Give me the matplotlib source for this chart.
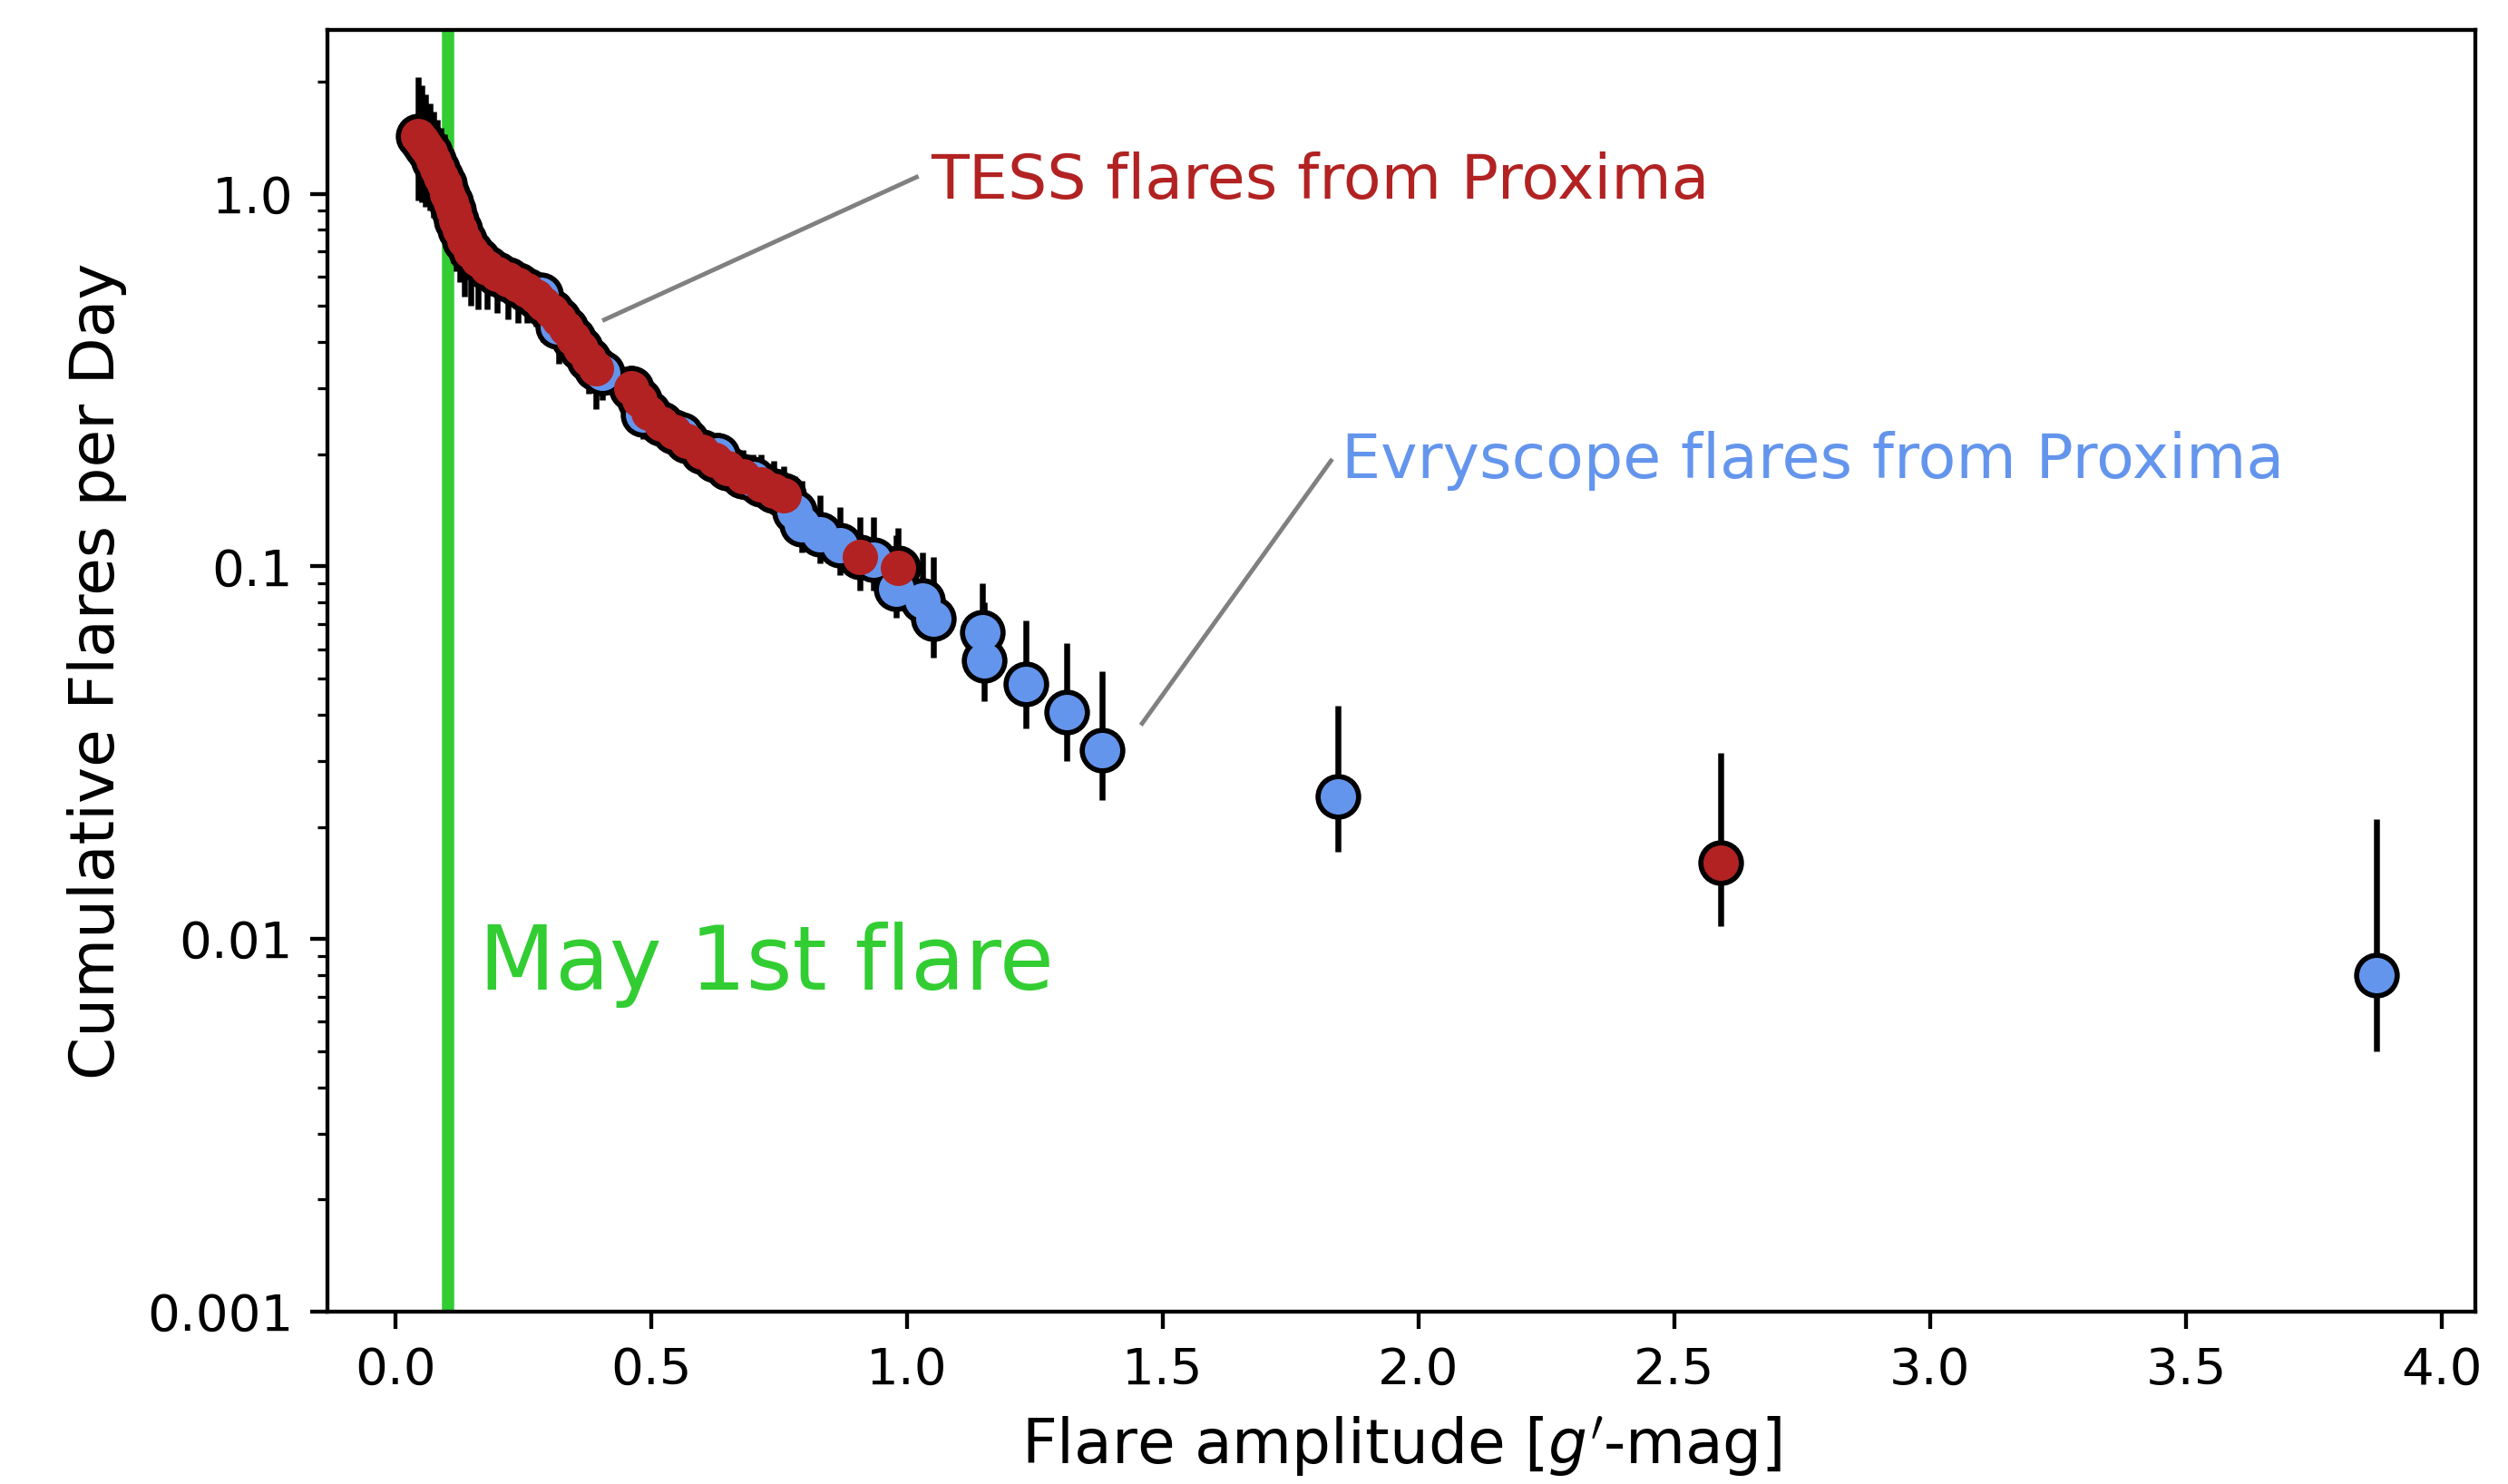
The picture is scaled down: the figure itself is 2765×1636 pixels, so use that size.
import matplotlib
matplotlib.use('Agg')
from matplotlib import pyplot as plt

# TESS flares (red): amplitude, cumulative rate, lower / upper error bar ends
tess_amp = [0.045, 0.052, 0.060, 0.068, 0.076, 0.083, 0.090, 0.096, 0.102, 0.108,
            0.114, 0.120, 0.127, 0.136, 0.148, 0.162, 0.180, 0.200, 0.220, 0.240,
            0.258, 0.275, 0.290, 0.305, 0.320, 0.334, 0.348, 0.362, 0.378, 0.393,
            0.462, 0.478, 0.495, 0.520, 0.545, 0.570, 0.600, 0.625, 0.650, 0.680,
            0.715, 0.740, 0.760, 0.908, 0.982, 2.590]
tess_rate = [1.43, 1.39, 1.34, 1.29, 1.23, 1.17, 1.11, 1.06, 1.00, 0.95,
             0.90, 0.85, 0.80, 0.75, 0.70, 0.665, 0.635, 0.610, 0.590, 0.570,
             0.550, 0.530, 0.505, 0.485, 0.460, 0.435, 0.410, 0.385, 0.360, 0.340,
             0.300, 0.280, 0.258, 0.242, 0.230, 0.217, 0.203, 0.193, 0.184, 0.175,
             0.166, 0.160, 0.155, 0.106, 0.099, 0.0160]
tess_lo = [0.96, 0.95, 0.92, 0.90, 0.86, 0.82, 0.78, 0.75, 0.71, 0.68,
           0.65, 0.62, 0.58, 0.53, 0.50, 0.49, 0.49, 0.48, 0.46, 0.45,
           0.45, 0.44, 0.40, 0.40, 0.35, 0.36, 0.33, 0.33, 0.29, 0.264,
           0.235, 0.245, 0.225, 0.212, 0.20, 0.19, 0.177, 0.168, 0.160, 0.152,
           0.145, 0.139, 0.135, 0.086, 0.080, 0.0108]
tess_hi = [2.05, 1.95, 1.85, 1.75, 1.66, 1.58, 1.50, 1.44, 1.36, 1.28,
           1.20, 1.05, 0.95, 0.88, 0.82, 0.77, 0.73, 0.70, 0.67, 0.65,
           0.63, 0.61, 0.58, 0.56, 0.53, 0.50, 0.47, 0.44, 0.41, 0.39,
           0.345, 0.32, 0.295, 0.275, 0.262, 0.248, 0.232, 0.222, 0.212, 0.205,
           0.200, 0.192, 0.186, 0.136, 0.127, 0.0316]

# Evryscope flares (blue)
evr_amp = [0.285, 0.318, 0.405, 0.485, 0.560, 0.630, 0.700, 0.780, 0.795, 0.830,
           0.870, 0.935, 0.980, 1.030, 1.052, 1.147, 1.152, 1.233, 1.313, 1.381,
           1.842, 3.872]
evr_rate = [0.535, 0.440, 0.330, 0.255, 0.226, 0.198, 0.172, 0.140, 0.130, 0.122,
            0.114, 0.104, 0.087, 0.081, 0.0725, 0.0665, 0.0558, 0.0484, 0.0407, 0.0321,
            0.0241, 0.0080]
evr_lo = [0.46, 0.38, 0.28, 0.22, 0.195, 0.172, 0.15, 0.12, 0.109, 0.102,
          0.095, 0.086, 0.073, 0.066, 0.057, 0.054, 0.0434, 0.0367, 0.030, 0.0236,
          0.0171, 0.0050]
evr_hi = [0.60, 0.49, 0.38, 0.29, 0.26, 0.228, 0.20, 0.175, 0.170, 0.155,
          0.144, 0.136, 0.121, 0.109, 0.106, 0.090, 0.080, 0.0715, 0.0624, 0.0524,
          0.0423, 0.0210]

may1_amp = 0.104
ytick_vals = [0.001, 0.01, 0.1, 1.0]
ytick_labels = ['0.001', '0.01', '0.1', '1.0']

red = '#B22222'
blue = '#6495ED'
green = '#32CD32'

fig = plt.figure(figsize=(2765 / 390, 1636 / 390), dpi=390)
ax = fig.add_axes([0.1306, 0.1161, 0.8565, 0.8637])
ax.set_yscale('log')

ax.axvline(may1_amp, color=green, lw=2.5, zorder=1)

# error bars
for amp, rate, lo, hi in [(evr_amp, evr_rate, evr_lo, evr_hi),
                          (tess_amp, tess_rate, tess_lo, tess_hi)]:
    yerr = [[r - l for r, l in zip(rate, lo)], [h - r for r, h in zip(rate, hi)]]
    ax.errorbar(amp, rate, yerr=yerr, fmt='none', ecolor='k', elinewidth=1.2, zorder=2)

# black outlines underneath, then coloured faces
ax.plot(evr_amp + tess_amp, evr_rate + tess_rate, 'o', ms=9.3, color='k', mew=0, zorder=3)
ax.plot(evr_amp, evr_rate, 'o', ms=7.2, color=blue, mew=0, zorder=4)
ax.plot(tess_amp, tess_rate, 'o', ms=7.2, color=red, mew=0, zorder=5)

ax.text(1.047, 1.08, 'TESS flares from Proxima', color=red, fontsize=12.6, va='center')
ax.plot([1.019, 0.409], [1.108, 0.459], color='gray', lw=0.9)
ax.text(1.85, 0.192, 'Evryscope flares from Proxima', color=blue, fontsize=12.6, va='center')
ax.plot([1.829, 1.46], [0.192, 0.0379], color='gray', lw=0.9)
ax.text(0.163, 0.00855, 'May 1st flare', color=green, fontsize=18, va='center')

ax.set_xlim(-0.132, 4.066)
ax.set_ylim(0.001, 2.75)
ax.set_yticks(ytick_vals)
ax.set_yticklabels(ytick_labels)
ax.tick_params(labelsize=10.4)
ax.set_xlabel("Flare amplitude [$g'$-mag]", fontsize=12.5)
ax.set_ylabel('Cumulative Flares per Day', fontsize=12.5)

plt.savefig('out.png', dpi=390)
